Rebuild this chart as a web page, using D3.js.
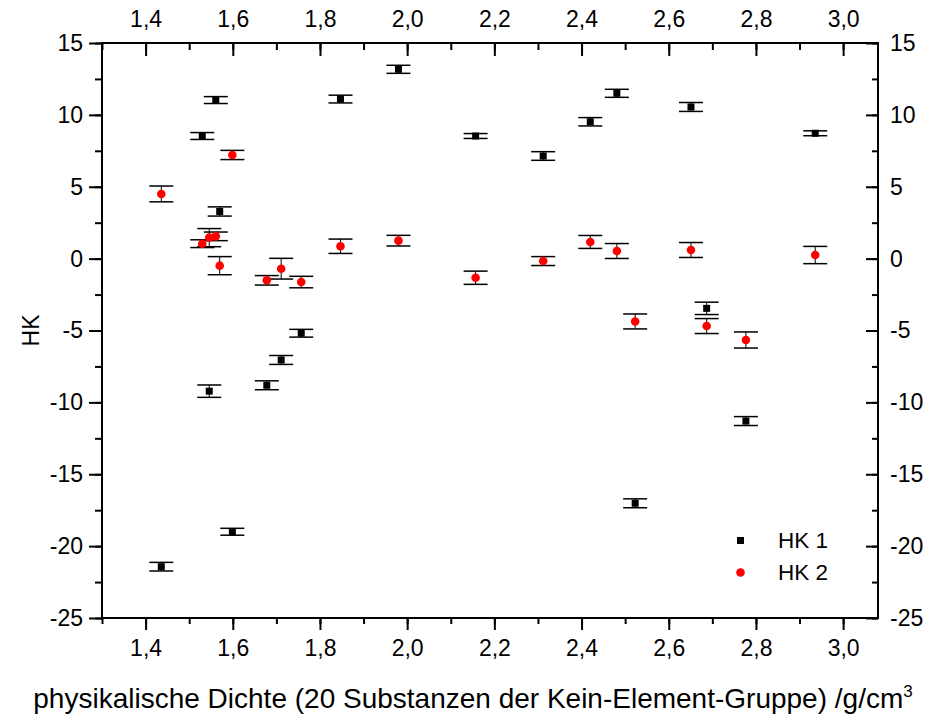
<!DOCTYPE html>
<html>
<head>
<meta charset="utf-8">
<script src="https://cdn.jsdelivr.net/npm/d3@7"></script>
<style>
  body { margin: 0; background: #fff; }
  text { font-family: "Liberation Sans", Arial, sans-serif; fill: #000; }
</style>
</head>
<body>
<svg id="chart" width="932" height="720"></svg>
<script>
// Physical density of the 20 substances (g/cm³)
const density = [1.436, 1.530, 1.546, 1.561, 1.570, 1.599, 1.678, 1.711, 1.757, 1.847,
                 1.980, 2.157, 2.312, 2.420, 2.481, 2.523, 2.651, 2.687, 2.777, 2.936];
// Principal component scores with their uncertainties
const hk1 = [-21.43, 8.53, -9.22, 11.03, 3.28, -19.00, -8.81, -7.05, -5.19, 11.10,
             13.17, 8.53, 7.14, 9.52, 11.50, -17.02, 10.55, -3.46, -11.30, 8.72];
const hk1Err = [0.30, 0.24, 0.43, 0.24, 0.32, 0.24, 0.31, 0.31, 0.27, 0.27,
                0.28, 0.17, 0.30, 0.29, 0.28, 0.31, 0.31, 0.43, 0.31, 0.17];
const hk2 = [4.50, 1.04, 1.46, 1.55, -0.49, 7.21, -1.51, -0.70, -1.63, 0.86,
             1.25, -1.33, -0.17, 1.16, 0.53, -4.37, 0.60, -4.69, -5.66, 0.25];
const hk2Err = [0.55, 0.27, 0.63, 0.30, 0.63, 0.32, 0.33, 0.72, 0.40, 0.50,
                0.37, 0.46, 0.31, 0.45, 0.52, 0.52, 0.52, 0.52, 0.56, 0.60];
const seriesNames = ["HK 1", "HK 2"];
const xTicks = [1.4, 1.6, 1.8, 2.0, 2.2, 2.4, 2.6, 2.8, 3.0];
const yTicks = [15, 10, 5, 0, -5, -10, -15, -20, -25];

const svg = d3.select("#chart");
const L = 102, R = 878, T = 43, B = 618;

const x = d3.scaleLinear().domain([1.3, 3.08]).range([L, R]);
const y = d3.scaleLinear().domain([-25, 15]).range([B, T]);
const fmtX = d => d3.format(".1f")(d).replace(".", ",");
const fmtY = d => String(d);

const xMinor = d3.range(1.3, 3.08, 0.1).map(v => +v.toFixed(2));
const yMinor = d3.range(-25, 15.01, 2.5);

function styleAxis(g) {
  g.select(".domain").remove();
  g.selectAll("line").attr("stroke", "#000").attr("stroke-width", 2);
  g.selectAll("text").style("font-size", "23px").style("font-family", '"Liberation Sans", Arial, sans-serif');
}

// minor ticks (unlabelled)
svg.append("g").attr("transform", `translate(0,${B})`)
  .call(d3.axisBottom(x).tickValues(xMinor).tickSize(6).tickFormat(""))
  .call(styleAxis);
svg.append("g").attr("transform", `translate(0,${T})`)
  .call(d3.axisBottom(x).tickValues(xMinor).tickSize(7).tickFormat(""))
  .call(styleAxis);
svg.append("g").attr("transform", `translate(${L},0)`)
  .call(d3.axisLeft(y).tickValues(yMinor).tickSize(7).tickFormat(""))
  .call(styleAxis);
svg.append("g").attr("transform", `translate(${R},0)`)
  .call(d3.axisLeft(y).tickValues(yMinor).tickSize(6).tickFormat(""))
  .call(styleAxis);

// major ticks with labels
svg.append("g").attr("transform", `translate(0,${B})`)
  .call(d3.axisBottom(x).tickValues(xTicks).tickSize(12).tickPadding(10).tickFormat(fmtX))
  .call(styleAxis);
svg.append("g").attr("transform", `translate(0,${T})`)
  .call(d3.axisTop(x).tickValues(xTicks).tickSize(0).tickPadding(16).tickFormat(fmtX))
  .call(styleAxis);
svg.append("g").attr("transform", `translate(0,${T})`)
  .call(d3.axisBottom(x).tickValues(xTicks).tickSize(13).tickFormat(""))
  .call(styleAxis);
svg.append("g").attr("transform", `translate(${L},0)`)
  .call(d3.axisLeft(y).tickValues(yTicks).tickSize(13).tickPadding(6).tickFormat(fmtY))
  .call(styleAxis);
svg.append("g").attr("transform", `translate(${R},0)`)
  .call(d3.axisRight(y).tickValues(yTicks).tickSize(0).tickPadding(12).tickFormat(fmtY))
  .call(styleAxis);
svg.append("g").attr("transform", `translate(${R},0)`)
  .call(d3.axisLeft(y).tickValues(yTicks).tickSize(12).tickFormat(""))
  .call(styleAxis);

// frame
svg.append("rect").attr("x", L).attr("y", T).attr("width", R - L).attr("height", B - T)
  .attr("fill", "none").attr("stroke", "#000").attr("stroke-width", 2);

// error bars + markers
function errorBars(vals, errs) {
  const g = svg.append("g");
  density.forEach((d, i) => {
    const cx = x(d), y1 = y(vals[i] + errs[i]), y2 = y(vals[i] - errs[i]);
    g.append("line").attr("x1", cx).attr("x2", cx).attr("y1", y1).attr("y2", y2)
      .attr("stroke", "#000").attr("stroke-width", 1);
    [y1, y2].forEach(yy => g.append("line")
      .attr("x1", cx - 12).attr("x2", cx + 12).attr("y1", yy).attr("y2", yy)
      .attr("stroke", "#000").attr("stroke-width", 1.5));
  });
}

errorBars(hk1, hk1Err);
svg.append("g").selectAll("rect").data(density).join("rect")
  .attr("x", (d) => x(d) - 3.5).attr("y", (d, i) => y(hk1[i]) - 3.5)
  .attr("width", 7).attr("height", 7).attr("fill", "#000");

errorBars(hk2, hk2Err);
svg.append("g").selectAll("circle").data(density).join("circle")
  .attr("cx", d => x(d)).attr("cy", (d, i) => y(hk2[i])).attr("r", 4.3)
  .attr("fill", "#ff0000");

// legend
const lg = svg.append("g");
lg.append("rect").attr("x", 737).attr("y", 537).attr("width", 7).attr("height", 7).attr("fill", "#000");
lg.append("circle").attr("cx", 740.5).attr("cy", 572.5).attr("r", 4.3).attr("fill", "#ff0000");
lg.selectAll("text").data(seriesNames).join("text")
  .attr("x", 778).attr("y", (d, i) => 548 + i * 32)
  .style("font-size", "22.5px").text(d => d);

// axis titles
svg.append("text").attr("transform", `translate(39,${(T + B) / 2}) rotate(-90)`)
  .attr("text-anchor", "middle").style("font-size", "23px").text("HK");

const xt = svg.append("text").attr("x", 473).attr("y", 708)
  .attr("text-anchor", "middle").style("font-size", "28px");
xt.append("tspan").text("physikalische Dichte (20 Substanzen der Kein-Element-Gruppe) /g/cm");
xt.append("tspan").attr("dy", -11).style("font-size", "17px").text("3");
</script>
</body>
</html>
